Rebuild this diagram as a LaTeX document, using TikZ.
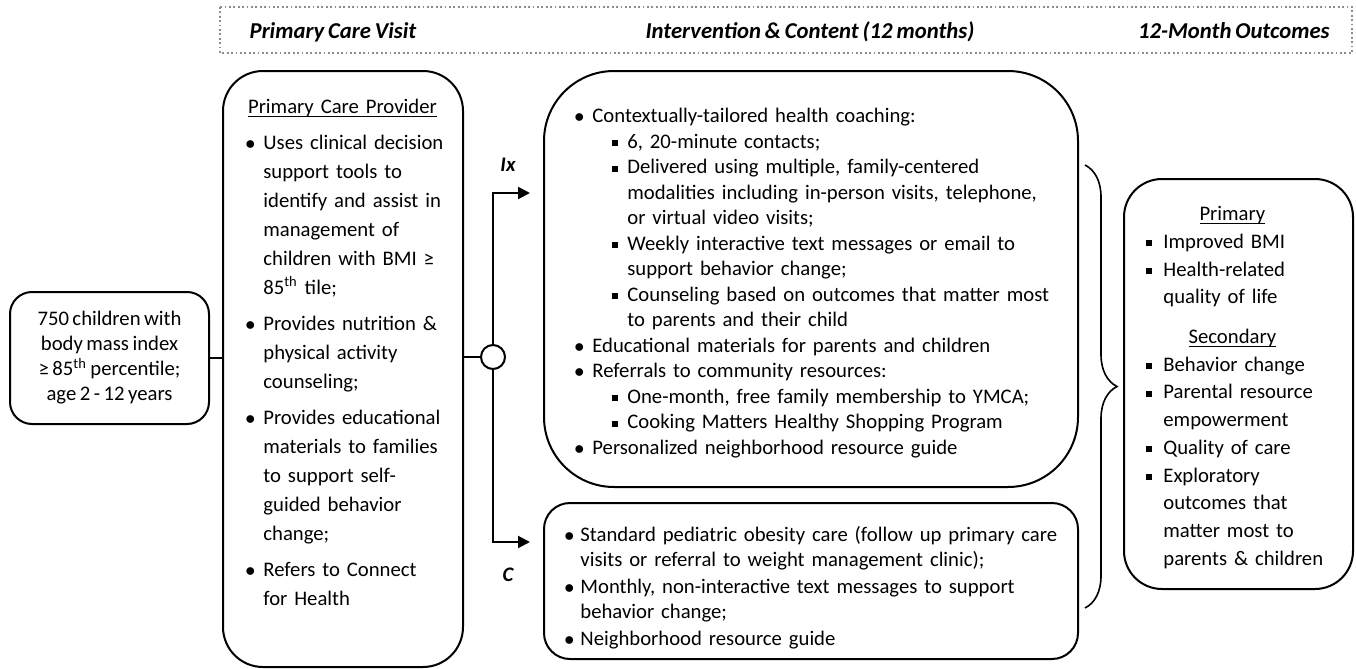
\documentclass[tikz,border=0pt]{standalone}
\usepackage{fontspec}
\setmainfont{Carlito}[WordSpace=0.75]
\usetikzlibrary{arrows.meta}
\usetikzlibrary{decorations.pathreplacing}

% list items
\newcommand{\dotb}{\mbox{$\bullet$}}
\newcommand{\bul}[2][9pt]{\par\hangindent=#1\hangafter=1\noindent\hbox to #1{\dotb\hfil}#2}
\newcommand{\sqb}{\rule[1pt]{3pt}{3pt}}
\newcommand{\sbul}[1]{\par\hangindent=26.5pt\hangafter=1\noindent\hspace*{19pt}\hbox to 7.5pt{\sqb\hfil}#1}
\newcommand{\obul}[1]{\par\hangindent=8.5pt\hangafter=1\noindent\hbox to 8.5pt{\sqb\hfil}#1}
\newcommand{\ulin}[1]{\setbox0\hbox{#1}\rlap{\rule[-1.8pt]{\wd0}{0.5pt}}\box0}
\newcommand{\boxtitle}[2]{\par\noindent\hbox to #1{\hfil\strut\ulin{#2}\hfil}}

\tikzset{
  rbox/.style={draw, line width=1pt, inner sep=0pt, anchor=north west},
  lst/.style={inner sep=0pt, anchor=north west, text width=#1,
    execute at begin node={\parindent=0pt\rightskip=0pt plus 1fil}},
  hdr/.style={font=\fontsize{11.35pt}{13pt}\selectfont\bfseries\itshape, inner sep=0pt},
  lab/.style={font=\fontsize{10.35pt}{12pt}\selectfont\bfseries\itshape, inner sep=0pt}
}

\begin{document}
\begin{tikzpicture}[x=0.5pt, y=-0.5pt, >={Triangle[length=6pt,width=6pt]}]
  \useasboundingbox (0,0) rectangle (1356,669);

  % headings
  \draw[black!45, line width=1pt, dash pattern=on 0.9pt off 1.3pt] (220,7) rectangle (1352,53);
  \node[hdr, anchor=base] (hvisit) at (333,39) {Primary Care Visit};
  \node[hdr, anchor=base] (hint) at (810,39) {Intervention \& Content (12 months)};
  \node[hdr, anchor=base east] (hout) at (1330,39) {12-Month Outcomes};

  % boxes
  \node[rbox, rounded corners=11pt, minimum width=99.5pt, minimum height=66pt, align=center,
    font=\fontsize{10.35pt}{12.5pt}\selectfont] (pop) at (9,291)
    {750 children with\\ body mass index\\ ≥ 85\textsuperscript{th} percentile;\\ age 2 - 12 years};
  \node[rbox, rounded corners=20pt, minimum width=120pt, minimum height=298pt] (pcp) at (222,70) {};
  \node[rbox, rounded corners=35pt, minimum width=267pt, minimum height=208pt] (ix) at (543,70) {};
  \node[rbox, rounded corners=13pt, minimum width=267pt, minimum height=78pt] (ctl) at (543,502) {};
  \node[rbox, rounded corners=19pt, minimum width=114.5pt, minimum height=205pt] (outc) at (1123,178) {};

  % box texts
  \node[lst=110pt, font=\fontsize{10.35pt}{14.5pt}\selectfont,
    execute at begin node={\parskip=3.5pt}] (pcptxt) at (245,76.7) {%
    \boxtitle{97pt}{Primary Care Provider}
    \bul{Uses clinical decision\newline support tools to\newline identify and assist in\newline management of\newline children with BMI ≥\newline 85\textsuperscript{th} tile;}
    \bul{Provides nutrition \&\newline physical activity\newline counseling;}
    \bul{Provides educational\newline materials to families\newline to support self-\newline guided behavior\newline change;}
    \bul{Refers to Connect\newline for Health}\par};
  \node[lst=260pt, font=\fontsize{10.35pt}{12.75pt}\selectfont] (ixtxt) at (574,97) {%
    \bul{\strut Contextually-tailored health coaching:}
    \sbul{6, 20-minute contacts;}
    \sbul{Delivered using multiple, family-centered\newline modalities including in-person visits, telephone,\newline or virtual video visits;}
    \sbul{Weekly interactive text messages or email to\newline support behavior change;}
    \sbul{Counseling based on outcomes that matter most\newline to parents and their child}
    \bul{Educational materials for parents and children}
    \bul{Referrals to community resources:}
    \sbul{One-month, free family membership to YMCA;}
    \sbul{Cooking Matters Healthy Shopping Program}
    \bul{Personalized neighborhood resource guide}\par};
  \node[lst=255pt, font=\fontsize{10.35pt}{12.5pt}\selectfont,
    execute at begin node={\parskip=1pt}] (ctltxt) at (564,514.5) {%
    \bul[8pt]{\strut Standard pediatric obesity care (follow up primary care\newline visits or referral to weight management clinic);}
    \bul[8pt]{Monthly, non-interactive text messages to support\newline behavior change;}
    \bul[8pt]{Neighborhood resource guide}\par};
  \node[lst=100pt, font=\fontsize{10.35pt}{13.85pt}\selectfont] (outtxt) at (1146,192.6) {%
    \boxtitle{86pt}{Primary}
    \obul{Improved BMI}
    \obul{Health-related\newline quality of life}
    \par\vspace{6pt}
    \boxtitle{86pt}{Secondary}
    \obul{Behavior change}
    \obul{Parental resource\newline empowerment}
    \obul{Quality of care}
    \obul{Exploratory\newline outcomes that\newline matter most to\newline parents \& children}\par};

  % randomisation
  \node[circle, draw, line width=1pt, fill=white, minimum size=12pt, inner sep=0pt] (ctr) at (493,357) {};
  \coordinate (ixend) at (530,193);
  \coordinate (cend) at (530,542);
  \draw[line width=1pt] (pop.east) -- (pop.east -| pcp.west);
  \draw[line width=1pt] (pcp.east |- ctr) -- (ctr.west);
  \draw[line width=1pt, ->] (ctr.north) |- (ixend);
  \draw[line width=1pt, ->] (ctr.south) |- (cend);
  \node[lab] (ixlab) at (508,165) {Ix};
  \node[lab] (clab) at (508,575) {C};

  % brace
  \coordinate (brtop) at (1085,165);
  \coordinate (brbot) at (1085,608);
  \draw[line width=0.8pt, decorate, decoration={brace, amplitude=16pt}] (brtop) -- (brbot);
\end{tikzpicture}
\end{document}
